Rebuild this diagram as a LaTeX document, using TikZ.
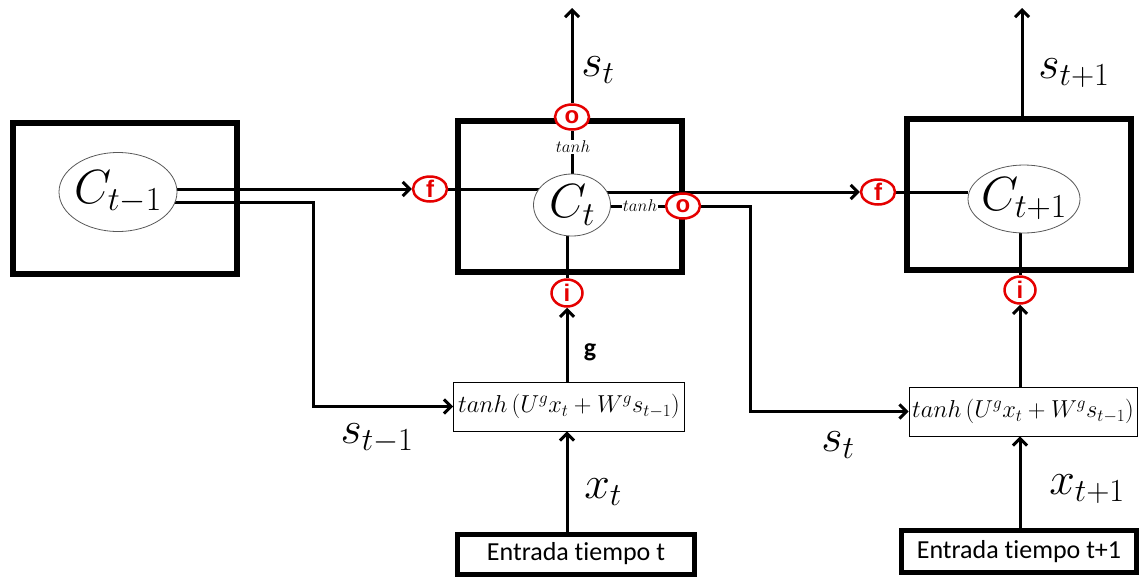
\RequirePackage{fix-cm}
\documentclass[tikz,border=0pt]{standalone}
\usepackage{fontspec}
\newfontfamily\calib[Ligatures={NoCommon,NoRare}]{Carlito}
\newfontfamily\gatefont{Liberation Sans}
\usetikzlibrary{shapes.geometric,arrows.meta,backgrounds}
\begin{document}
\begin{tikzpicture}[x=1pt,y=-1pt,
 cell/.style={draw, line width=6pt, minimum width=224pt, minimum height=151pt, inner sep=0},
 cstate/.style={ellipse, draw=black!65, line width=0.8pt, fill=white, inner sep=0},
 bigtxt/.style={font=\fontsize{48}{48}\selectfont},
 gate/.style={ellipse, draw=red!90!black, line width=2.5pt, fill=white, text=red!90!black, font=\gatefont\bfseries\fontsize{24}{24}\selectfont, minimum width=34pt, minimum height=25pt, inner sep=0},
 fbox/.style={draw, line width=0.8pt, minimum height=49pt, inner sep=0, font=\fontsize{24.5}{24.5}\selectfont},
 inbox/.style={draw, line width=5pt, inner sep=0, font=\calib\fontsize{26}{26}\selectfont},
 conn/.style={line width=3pt},
 arr/.style={conn, -{Straight Barb[length=7pt,width=14pt]}},
 lbl/.style={font=\fontsize{46}{46}\selectfont, inner sep=0},
 smalllbl/.style={font=\fontsize{17}{17}\selectfont, fill=white, inner sep=1pt}
]
\useasboundingbox (0,0) rectangle (1140,579);

% cells
\node[cell] (boxL) at (125,198.5) {};
\node[cell] (boxM) at (570,196) {};
\node[cell] (boxR) at (1019,194) {};

% cell states
\node[cstate, minimum width=118pt, minimum height=79pt, label={[bigtxt]center:$C_{t-1}$}] (cL) at (118,192) {};
\node[cstate, minimum width=77pt, minimum height=62pt, label={[bigtxt]center:$C_{t}$}] (cM) at (572,205) {};
\node[cstate, minimum width=112pt, minimum height=68pt, label={[bigtxt]center:$C_{t+1}$}] (cR) at (1024,199) {};

% gates
\node[gate] (fM) at (430,189) {f};
\node[gate] (oT) at (572,117) {o};
\node[gate] (oR) at (683,206) {o};
\node[gate, minimum width=31pt, minimum height=27pt] (iM) at (567,293) {i};
\node[gate] (fR) at (878,192) {f};
\node[gate, minimum width=31pt, minimum height=27pt] (iR) at (1020,290) {i};

% candidate boxes
\node[fbox, minimum width=231pt] (tb1) at (569,406.5) {$tanh\,(U^g x_t + W^g s_{t-1})$};
\node[fbox, minimum width=228pt] (tb2) at (1023,411.5) {$tanh\,(U^g x_t + W^g s_{t-1})$};

% inputs
\node[inbox, minimum width=237pt, minimum height=40pt] (e1) at (576,554) {Entrada tiempo t};
\node[inbox, minimum width=235pt, minimum height=42pt] (e2) at (1019,551.5) {Entrada tiempo t+1};

\coordinate (topM) at (572,8);
\coordinate (topR) at (1022,8);
\coordinate (k1) at (313,300);
\coordinate (k2) at (750,300);

\begin{scope}[on background layer]
\draw[arr] (cL.east |- fM) -- (fM.west);
\draw[arr] (cL.-10) -| (k1 |- tb1.west) -- (tb1.west);
\draw[conn] (fM.east) -- (cM.154 |- fM);
\draw[conn] (cM.north) -- (oT.south);
\draw[arr] (oT.north) -- (topM);
\draw[conn] (iM.north) -- (iM |- cM.south);
\draw[arr] (tb1.north -| iM) -- (iM.south);
\draw[arr] (e1.north -| iM) -- (iM |- tb1.south);
\draw[arr] (cM.20 |- fR) -- (fR.west);
\draw[conn] (cM.east |- oR) -- (oR.west);
\draw[arr] (oR.east) -| (k2 |- tb2.west) -- (tb2.west);
\draw[conn] (fR.east) -- (cR.west |- fR);
\draw[conn] (iR.north) -- (iR |- cR.south);
\draw[arr] (tb2.north -| iR) -- (iR.south);
\draw[arr] (e2.north -| iR) -- (iR |- tb2.south);
\draw[arr] (boxR.north -| topR) -- (topR);
\end{scope}

% small tanh labels
\node[smalllbl] (th1) at (573,147) {$tanh$};
\node[smalllbl] (th2) at (640,206) {$tanh$};

% labels
\node[lbl] (lst) at (598,70) {$s_t$};
\node[lbl] (lst1) at (1074,73) {$s_{t+1}$};
\node[lbl] (lsm1) at (377,438) {$s_{t-1}$};
\node[lbl] (lst2) at (838,445) {$s_t$};
\node[lbl] (lxt) at (603,492) {$x_t$};
\node[lbl] (lxt1) at (1087,489) {$x_{t+1}$};
\node[font=\calib\bfseries\fontsize{26}{26}\selectfont] (lg) at (590,352) {g};
\end{tikzpicture}
\end{document}
